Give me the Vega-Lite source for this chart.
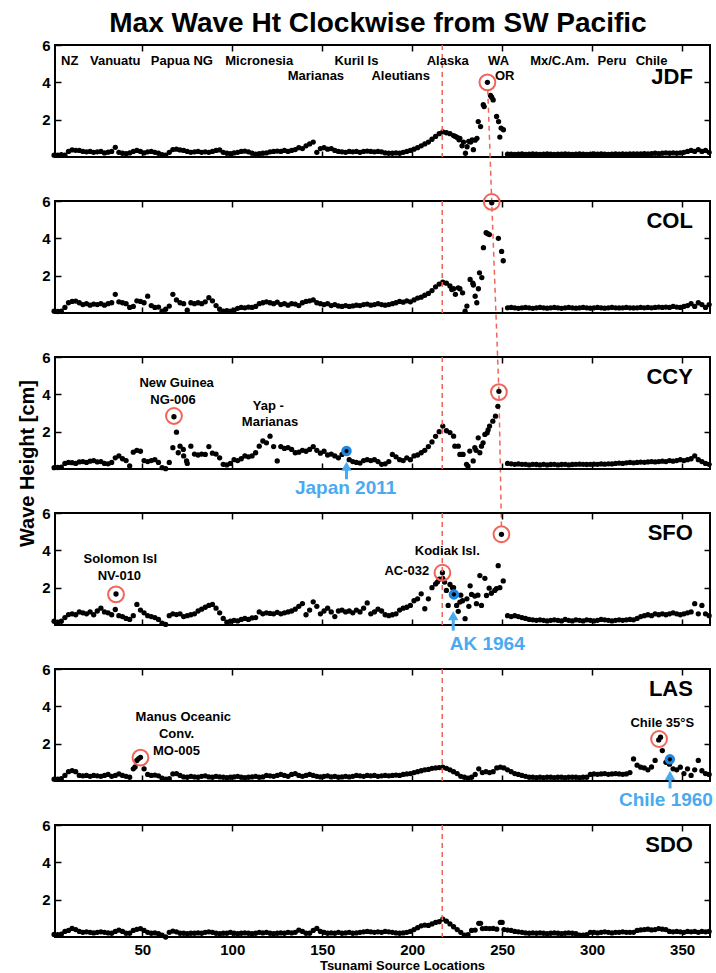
{
"$schema":"https://vega.github.io/schema/vega-lite/v6.json",
"padding":{"left":16,"top":10,"right":4,"bottom":0},
"background":"white",
"title":{"text":"Max Wave Ht Clockwise from SW Pacific","fontSize":28,"fontWeight":"bold","font":"Liberation Sans","color":"black","anchor":"middle","offset":-1,"dx":13},
"config":{
 "font":"Liberation Sans",
 "view":{"stroke":"black","strokeWidth":2},
 "axis":{"domain":false,"grid":false,"tickColor":"black","tickWidth":1.5,"tickSize":-6,"labelFont":"Liberation Sans","labelFontWeight":"bold","labelFontSize":15,"labelColor":"black","labelPadding":11,"titleFont":"Liberation Sans","titleFontWeight":"bold","titleColor":"black"}
},
"datasets":{
"main":[
{"x":1,"JDF":0.1,"COL":0.1,"CCY":0.07,"SFO":0.2,"LAS":0.1,"SDO":0.14},
{"x":3,"JDF":0.1,"COL":0.08,"CCY":0.08,"SFO":0.15,"LAS":0.1,"SDO":0.12},
{"x":5,"JDF":0.12,"COL":0.1,"CCY":0.1,"SFO":0.2,"LAS":0.12,"SDO":0.15},
{"x":7,"JDF":0.1,"COL":0.3,"CCY":0.3,"SFO":0.4,"LAS":0.3,"SDO":0.3},
{"x":9,"JDF":0.3,"COL":0.55,"CCY":0.35,"SFO":0.56,"LAS":0.5,"SDO":0.35},
{"x":11,"JDF":0.38,"COL":0.62,"CCY":0.34,"SFO":0.6,"LAS":0.56,"SDO":0.46},
{"x":13,"JDF":0.36,"COL":0.64,"CCY":0.3,"SFO":0.55,"LAS":0.5,"SDO":0.4},
{"x":15,"JDF":0.35,"COL":0.55,"CCY":0.38,"SFO":0.7,"LAS":0.3,"SDO":0.3},
{"x":17,"JDF":0.3,"COL":0.45,"CCY":0.4,"SFO":0.65,"LAS":0.28,"SDO":0.25},
{"x":19,"JDF":0.28,"COL":0.5,"CCY":0.35,"SFO":0.6,"LAS":0.3,"SDO":0.28},
{"x":21,"JDF":0.3,"COL":0.42,"CCY":0.42,"SFO":0.7,"LAS":0.25,"SDO":0.25},
{"x":23,"JDF":0.25,"COL":0.48,"CCY":0.45,"SFO":0.55,"LAS":0.3,"SDO":0.22},
{"x":25,"JDF":0.28,"COL":0.45,"CCY":0.38,"SFO":0.75,"LAS":0.28,"SDO":0.25},
{"x":27,"JDF":0.3,"COL":0.5,"CCY":0.4,"SFO":0.9,"LAS":0.25,"SDO":0.28},
{"x":29,"JDF":0.22,"COL":0.42,"CCY":0.3,"SFO":0.7,"LAS":0.3,"SDO":0.25},
{"x":31,"JDF":0.26,"COL":0.5,"CCY":0.28,"SFO":0.65,"LAS":0.35,"SDO":0.22},
{"x":33,"JDF":0.3,"COL":0.55,"CCY":0.35,"SFO":0.55,"LAS":0.25,"SDO":0.2},
{"x":35,"JDF":0.52,"COL":1.0,"CCY":0.6,"SFO":0.83,"LAS":0.3,"SDO":0.3},
{"x":37,"JDF":0.25,"COL":0.6,"CCY":0.7,"SFO":0.5,"LAS":0.38,"SDO":0.37},
{"x":39,"JDF":0.2,"COL":0.55,"CCY":0.55,"SFO":0.45,"LAS":0.3,"SDO":0.3},
{"x":41,"JDF":0.18,"COL":0.5,"CCY":0.45,"SFO":0.35,"LAS":0.25,"SDO":0.2},
{"x":43,"JDF":0.22,"COL":0.3,"CCY":0.16,"SFO":0.3,"LAS":0.2,"SDO":0.2},
{"x":45,"JDF":0.3,"COL":0.35,"CCY":0.9,"SFO":0.5,"LAS":0.65,"SDO":0.35},
{"x":47,"JDF":0.35,"COL":0.65,"CCY":1.0,"SFO":1.1,"LAS":1.1,"SDO":0.41},
{"x":49,"JDF":0.3,"COL":0.62,"CCY":0.95,"SFO":0.8,"LAS":1.27,"SDO":0.45},
{"x":51,"JDF":0.22,"COL":0.55,"CCY":0.45,"SFO":0.65,"LAS":0.65,"SDO":0.35},
{"x":53,"JDF":0.28,"COL":0.9,"CCY":0.4,"SFO":0.5,"LAS":0.35,"SDO":0.25},
{"x":55,"JDF":0.3,"COL":0.4,"CCY":0.45,"SFO":0.45,"LAS":0.3,"SDO":0.2},
{"x":57,"JDF":0.25,"COL":0.3,"CCY":0.5,"SFO":0.4,"LAS":0.32,"SDO":0.22},
{"x":59,"JDF":0.2,"COL":0.32,"CCY":0.35,"SFO":0.3,"LAS":0.28,"SDO":0.18},
{"x":61,"JDF":0.12,"COL":0.1,"CCY":0.07,"SFO":0.1,"LAS":0.15,"SDO":0.1},
{"x":63,"JDF":0.1,"COL":0.2,"CCY":0.02,"SFO":0.03,"LAS":0.1,"SDO":0.0},
{"x":65,"JDF":0.25,"COL":0.37,"CCY":0.35,"SFO":0.5,"LAS":0.12,"SDO":0.25},
{"x":67,"JDF":0.4,"COL":1.0,"CCY":1.14,"SFO":0.6,"LAS":0.38,"SDO":0.32},
{"x":69,"JDF":0.42,"COL":0.7,"CCY":1.97,"SFO":0.56,"LAS":0.4,"SDO":0.28},
{"x":71,"JDF":0.38,"COL":0.55,"CCY":1.22,"SFO":0.6,"LAS":0.3,"SDO":0.2},
{"x":73,"JDF":0.35,"COL":0.5,"CCY":0.7,"SFO":0.45,"LAS":0.22,"SDO":0.2},
{"x":75,"JDF":0.3,"COL":0.15,"CCY":0.3,"SFO":0.5,"LAS":0.2,"SDO":0.18},
{"x":77,"JDF":0.25,"COL":0.55,"CCY":1.22,"SFO":0.55,"LAS":0.25,"SDO":0.2},
{"x":79,"JDF":0.28,"COL":0.5,"CCY":0.8,"SFO":0.6,"LAS":0.22,"SDO":0.2},
{"x":81,"JDF":0.3,"COL":0.55,"CCY":0.75,"SFO":0.75,"LAS":0.2,"SDO":0.22},
{"x":83,"JDF":0.25,"COL":0.5,"CCY":0.8,"SFO":0.85,"LAS":0.25,"SDO":0.2},
{"x":85,"JDF":0.28,"COL":0.6,"CCY":0.78,"SFO":0.95,"LAS":0.28,"SDO":0.25},
{"x":87,"JDF":0.25,"COL":0.82,"CCY":1.2,"SFO":1.05,"LAS":0.22,"SDO":0.28},
{"x":89,"JDF":0.3,"COL":0.65,"CCY":0.85,"SFO":1.1,"LAS":0.2,"SDO":0.25},
{"x":91,"JDF":0.35,"COL":0.4,"CCY":0.8,"SFO":0.9,"LAS":0.25,"SDO":0.2},
{"x":93,"JDF":0.38,"COL":0.2,"CCY":0.6,"SFO":0.65,"LAS":0.22,"SDO":0.18},
{"x":95,"JDF":0.25,"COL":0.1,"CCY":0.25,"SFO":0.35,"LAS":0.2,"SDO":0.2},
{"x":97,"JDF":0.2,"COL":0.12,"CCY":0.22,"SFO":0.15,"LAS":0.18,"SDO":0.2},
{"x":99,"JDF":0.18,"COL":0.1,"CCY":0.3,"SFO":0.2,"LAS":0.2,"SDO":0.25},
{"x":101,"JDF":0.22,"COL":0.15,"CCY":0.5,"SFO":0.25,"LAS":0.22,"SDO":0.2},
{"x":103,"JDF":0.25,"COL":0.25,"CCY":0.45,"SFO":0.22,"LAS":0.25,"SDO":0.18},
{"x":105,"JDF":0.3,"COL":0.3,"CCY":0.55,"SFO":0.3,"LAS":0.2,"SDO":0.2},
{"x":107,"JDF":0.32,"COL":0.28,"CCY":0.7,"SFO":0.35,"LAS":0.18,"SDO":0.22},
{"x":109,"JDF":0.28,"COL":0.32,"CCY":0.65,"SFO":0.3,"LAS":0.2,"SDO":0.2},
{"x":111,"JDF":0.2,"COL":0.3,"CCY":0.7,"SFO":0.38,"LAS":0.22,"SDO":0.18},
{"x":113,"JDF":0.15,"COL":0.35,"CCY":0.87,"SFO":0.4,"LAS":0.25,"SDO":0.2},
{"x":115,"JDF":0.18,"COL":0.5,"CCY":1.22,"SFO":0.7,"LAS":0.2,"SDO":0.25},
{"x":117,"JDF":0.2,"COL":0.55,"CCY":1.5,"SFO":0.6,"LAS":0.22,"SDO":0.22},
{"x":119,"JDF":0.22,"COL":0.6,"CCY":1.4,"SFO":0.65,"LAS":0.3,"SDO":0.25},
{"x":121,"JDF":0.28,"COL":0.55,"CCY":1.76,"SFO":0.62,"LAS":0.28,"SDO":0.2},
{"x":123,"JDF":0.3,"COL":0.5,"CCY":1.2,"SFO":0.6,"LAS":0.25,"SDO":0.18},
{"x":125,"JDF":0.32,"COL":0.58,"CCY":0.43,"SFO":0.68,"LAS":0.3,"SDO":0.2},
{"x":127,"JDF":0.3,"COL":0.45,"CCY":1.2,"SFO":0.6,"LAS":0.35,"SDO":0.22},
{"x":129,"JDF":0.35,"COL":0.5,"CCY":1.1,"SFO":0.65,"LAS":0.3,"SDO":0.2},
{"x":131,"JDF":0.3,"COL":0.42,"CCY":1.15,"SFO":0.7,"LAS":0.25,"SDO":0.25},
{"x":133,"JDF":0.35,"COL":0.5,"CCY":1.05,"SFO":0.75,"LAS":0.35,"SDO":0.22},
{"x":135,"JDF":0.4,"COL":0.48,"CCY":0.87,"SFO":0.85,"LAS":0.4,"SDO":0.25},
{"x":137,"JDF":0.5,"COL":0.4,"CCY":0.9,"SFO":1.0,"LAS":0.3,"SDO":0.37},
{"x":139,"JDF":0.45,"COL":0.55,"CCY":1.0,"SFO":1.15,"LAS":0.25,"SDO":0.3},
{"x":141,"JDF":0.6,"COL":0.62,"CCY":0.95,"SFO":0.55,"LAS":0.3,"SDO":0.2},
{"x":143,"JDF":0.7,"COL":0.65,"CCY":1.05,"SFO":0.8,"LAS":0.35,"SDO":0.2},
{"x":145,"JDF":0.8,"COL":0.7,"CCY":1.2,"SFO":1.24,"LAS":0.3,"SDO":0.35},
{"x":147,"JDF":0.25,"COL":0.55,"CCY":1.0,"SFO":1.0,"LAS":0.25,"SDO":0.46},
{"x":149,"JDF":0.45,"COL":0.5,"CCY":0.85,"SFO":0.6,"LAS":0.22,"SDO":0.3},
{"x":151,"JDF":0.5,"COL":0.45,"CCY":0.95,"SFO":0.75,"LAS":0.25,"SDO":0.25},
{"x":153,"JDF":0.42,"COL":0.5,"CCY":0.75,"SFO":0.9,"LAS":0.28,"SDO":0.2},
{"x":155,"JDF":0.45,"COL":0.4,"CCY":0.8,"SFO":0.7,"LAS":0.22,"SDO":0.22},
{"x":157,"JDF":0.35,"COL":0.45,"CCY":0.7,"SFO":0.45,"LAS":0.25,"SDO":0.2},
{"x":159,"JDF":0.3,"COL":0.38,"CCY":0.6,"SFO":0.75,"LAS":0.2,"SDO":0.25},
{"x":161,"JDF":0.28,"COL":0.35,"CCY":0.78,"SFO":0.8,"LAS":0.22,"SDO":0.2},
{"x":163,"JDF":0.25,"COL":0.4,"CCY":0.9,"SFO":0.7,"LAS":0.25,"SDO":0.22},
{"x":165,"JDF":0.3,"COL":0.35,"CCY":0.5,"SFO":0.75,"LAS":0.22,"SDO":0.25},
{"x":167,"JDF":0.28,"COL":0.38,"CCY":0.4,"SFO":0.65,"LAS":0.25,"SDO":0.2},
{"x":169,"JDF":0.3,"COL":0.42,"CCY":0.35,"SFO":0.8,"LAS":0.3,"SDO":0.22},
{"x":171,"JDF":0.25,"COL":0.4,"CCY":0.32,"SFO":0.7,"LAS":0.28,"SDO":0.25},
{"x":173,"JDF":0.3,"COL":0.45,"CCY":0.45,"SFO":0.9,"LAS":0.25,"SDO":0.28},
{"x":175,"JDF":0.32,"COL":0.48,"CCY":0.5,"SFO":1.18,"LAS":0.3,"SDO":0.3},
{"x":177,"JDF":0.3,"COL":0.42,"CCY":0.45,"SFO":0.6,"LAS":0.28,"SDO":0.28},
{"x":179,"JDF":0.28,"COL":0.45,"CCY":0.5,"SFO":0.7,"LAS":0.3,"SDO":0.25},
{"x":181,"JDF":0.3,"COL":0.5,"CCY":0.4,"SFO":0.85,"LAS":0.25,"SDO":0.28},
{"x":183,"JDF":0.28,"COL":0.45,"CCY":0.25,"SFO":0.75,"LAS":0.28,"SDO":0.25},
{"x":185,"JDF":0.22,"COL":0.42,"CCY":0.28,"SFO":0.55,"LAS":0.3,"SDO":0.3},
{"x":187,"JDF":0.2,"COL":0.45,"CCY":0.4,"SFO":0.5,"LAS":0.28,"SDO":0.28},
{"x":189,"JDF":0.2,"COL":0.5,"CCY":0.78,"SFO":0.55,"LAS":0.3,"SDO":0.25},
{"x":191,"JDF":0.22,"COL":0.55,"CCY":0.65,"SFO":0.6,"LAS":0.32,"SDO":0.22},
{"x":193,"JDF":0.2,"COL":0.62,"CCY":0.5,"SFO":0.8,"LAS":0.3,"SDO":0.2},
{"x":195,"JDF":0.25,"COL":0.58,"CCY":0.45,"SFO":0.9,"LAS":0.35,"SDO":0.22},
{"x":197,"JDF":0.3,"COL":0.65,"CCY":0.6,"SFO":0.95,"LAS":0.38,"SDO":0.25},
{"x":199,"JDF":0.35,"COL":0.6,"CCY":0.5,"SFO":1.05,"LAS":0.4,"SDO":0.3},
{"x":201,"JDF":0.42,"COL":0.7,"CCY":0.7,"SFO":1.3,"LAS":0.45,"SDO":0.4},
{"x":203,"JDF":0.5,"COL":0.8,"CCY":0.75,"SFO":1.4,"LAS":0.5,"SDO":0.5},
{"x":205,"JDF":0.6,"COL":0.85,"CCY":0.87,"SFO":1.67,"LAS":0.55,"SDO":0.6},
{"x":207,"JDF":0.7,"COL":0.95,"CCY":1.0,"SFO":0.87,"LAS":0.6,"SDO":0.64},
{"x":209,"JDF":0.8,"COL":1.05,"CCY":1.2,"SFO":1.4,"LAS":0.62,"SDO":0.62},
{"x":211,"JDF":0.95,"COL":1.2,"CCY":1.45,"SFO":2.0,"LAS":0.68,"SDO":0.7},
{"x":213,"JDF":1.1,"COL":1.4,"CCY":1.75,"SFO":2.2,"LAS":0.7,"SDO":0.78},
{"x":215,"JDF":1.25,"COL":1.55,"CCY":2.0,"SFO":2.45,"LAS":0.72,"SDO":0.82},
{"x":217,"JDF":1.35,"COL":1.65,"CCY":2.3,"SFO":2.5,"LAS":0.74,"SDO":0.96},
{"x":219,"JDF":1.3,"COL":1.6,"CCY":2.05,"SFO":1.85,"LAS":0.68,"SDO":0.85},
{"x":221,"JDF":1.25,"COL":1.45,"CCY":1.95,"SFO":2.17,"LAS":0.6,"SDO":0.7},
{"x":223,"JDF":1.15,"COL":1.3,"CCY":1.76,"SFO":2.0,"LAS":0.5,"SDO":0.55},
{"x":225,"LAS":0.4,"SDO":0.4},
{"x":227,"LAS":0.25,"SDO":0.25},
{"x":229,"LAS":0.2,"SDO":0.1},
{"x":231,"LAS":0.15,"SDO":0.12},
{"x":233,"LAS":0.2,"SDO":0.35},
{"x":235,"LAS":0.35,"SDO":0.37},
{"x":237,"LAS":0.65,"SDO":0.73},
{"x":239,"LAS":0.45,"SDO":0.45},
{"x":241,"LAS":0.5,"SDO":0.46},
{"x":243,"LAS":0.45,"SDO":0.45},
{"x":245,"LAS":0.5,"SDO":0.46},
{"x":247,"LAS":0.7,"SDO":0.42},
{"x":249,"LAS":0.74,"SDO":0.78},
{"x":251,"LAS":0.7,"SDO":0.4},
{"x":253,"JDF":0.15,"COL":0.28,"CCY":0.3,"SFO":0.5,"LAS":0.6,"SDO":0.37},
{"x":255,"JDF":0.15,"COL":0.3,"CCY":0.28,"SFO":0.45,"LAS":0.5,"SDO":0.35},
{"x":257,"JDF":0.14,"COL":0.28,"CCY":0.25,"SFO":0.5,"LAS":0.4,"SDO":0.3},
{"x":259,"JDF":0.15,"COL":0.25,"CCY":0.27,"SFO":0.45,"LAS":0.35,"SDO":0.28},
{"x":261,"JDF":0.16,"COL":0.28,"CCY":0.25,"SFO":0.4,"LAS":0.3,"SDO":0.25},
{"x":263,"JDF":0.14,"COL":0.3,"CCY":0.25,"SFO":0.35,"LAS":0.25,"SDO":0.22},
{"x":265,"JDF":0.15,"COL":0.28,"CCY":0.22,"SFO":0.3,"LAS":0.2,"SDO":0.2},
{"x":267,"JDF":0.16,"COL":0.25,"CCY":0.25,"SFO":0.28,"LAS":0.2,"SDO":0.22},
{"x":269,"JDF":0.15,"COL":0.28,"CCY":0.24,"SFO":0.25,"LAS":0.18,"SDO":0.2},
{"x":271,"JDF":0.14,"COL":0.3,"CCY":0.22,"SFO":0.28,"LAS":0.2,"SDO":0.22},
{"x":273,"JDF":0.15,"COL":0.28,"CCY":0.25,"SFO":0.25,"LAS":0.18,"SDO":0.2},
{"x":275,"JDF":0.16,"COL":0.26,"CCY":0.22,"SFO":0.22,"LAS":0.2,"SDO":0.18},
{"x":277,"JDF":0.15,"COL":0.28,"CCY":0.24,"SFO":0.25,"LAS":0.2,"SDO":0.2},
{"x":279,"JDF":0.14,"COL":0.3,"CCY":0.25,"SFO":0.28,"LAS":0.18,"SDO":0.22},
{"x":281,"JDF":0.15,"COL":0.28,"CCY":0.22,"SFO":0.25,"LAS":0.2,"SDO":0.2},
{"x":283,"JDF":0.15,"COL":0.25,"CCY":0.24,"SFO":0.22,"LAS":0.2,"SDO":0.18},
{"x":285,"JDF":0.16,"COL":0.28,"CCY":0.25,"SFO":0.3,"LAS":0.18,"SDO":0.2},
{"x":287,"JDF":0.15,"COL":0.3,"CCY":0.22,"SFO":0.25,"LAS":0.2,"SDO":0.22},
{"x":289,"JDF":0.14,"COL":0.28,"CCY":0.24,"SFO":0.22,"LAS":0.2,"SDO":0.2},
{"x":291,"JDF":0.15,"COL":0.26,"CCY":0.25,"SFO":0.28,"LAS":0.2,"SDO":0.18},
{"x":293,"JDF":0.16,"COL":0.28,"CCY":0.26,"SFO":0.25,"LAS":0.18,"SDO":0.1},
{"x":295,"JDF":0.15,"COL":0.3,"CCY":0.25,"SFO":0.22,"LAS":0.2,"SDO":0.1},
{"x":297,"JDF":0.14,"COL":0.28,"CCY":0.24,"SFO":0.28,"LAS":0.2,"SDO":0.12},
{"x":299,"JDF":0.15,"COL":0.26,"CCY":0.25,"SFO":0.25,"LAS":0.35,"SDO":0.25},
{"x":301,"JDF":0.16,"COL":0.28,"CCY":0.26,"SFO":0.22,"LAS":0.38,"SDO":0.25},
{"x":303,"JDF":0.15,"COL":0.3,"CCY":0.25,"SFO":0.25,"LAS":0.36,"SDO":0.22},
{"x":305,"JDF":0.16,"COL":0.28,"CCY":0.27,"SFO":0.3,"LAS":0.38,"SDO":0.25},
{"x":307,"JDF":0.15,"COL":0.26,"CCY":0.26,"SFO":0.28,"LAS":0.4,"SDO":0.28},
{"x":309,"JDF":0.14,"COL":0.28,"CCY":0.28,"SFO":0.25,"LAS":0.36,"SDO":0.25},
{"x":311,"JDF":0.15,"COL":0.3,"CCY":0.27,"SFO":0.22,"LAS":0.38,"SDO":0.22},
{"x":313,"JDF":0.16,"COL":0.28,"CCY":0.3,"SFO":0.25,"LAS":0.4,"SDO":0.25},
{"x":315,"JDF":0.15,"COL":0.27,"CCY":0.32,"SFO":0.28,"LAS":0.38,"SDO":0.25},
{"x":317,"JDF":0.16,"COL":0.28,"CCY":0.3,"SFO":0.25,"LAS":0.36,"SDO":0.28},
{"x":319,"JDF":0.15,"COL":0.3,"CCY":0.33,"SFO":0.28,"LAS":0.38,"SDO":0.25},
{"x":321,"JDF":0.16,"COL":0.28,"CCY":0.35,"SFO":0.3,"LAS":0.45,"SDO":0.25},
{"x":323,"JDF":0.17,"COL":0.27,"CCY":0.33,"SFO":0.28,"LAS":1.18,"SDO":0.25},
{"x":325,"JDF":0.16,"COL":0.28,"CCY":0.35,"SFO":0.35,"LAS":0.85,"SDO":0.35},
{"x":327,"JDF":0.17,"COL":0.3,"CCY":0.37,"SFO":0.45,"LAS":0.74,"SDO":0.38},
{"x":329,"JDF":0.18,"COL":0.28,"CCY":0.36,"SFO":0.5,"LAS":0.7,"SDO":0.4},
{"x":331,"JDF":0.17,"COL":0.3,"CCY":0.38,"SFO":0.55,"LAS":0.6,"SDO":0.42},
{"x":333,"JDF":0.18,"COL":0.28,"CCY":0.4,"SFO":0.5,"LAS":0.75,"SDO":0.38},
{"x":335,"JDF":0.2,"COL":0.3,"CCY":0.38,"SFO":0.6,"LAS":1.1,"SDO":0.4},
{"x":337,"JDF":0.18,"COL":0.32,"CCY":0.4,"SFO":0.55,"LAS":2.2,"SDO":0.45},
{"x":339,"JDF":0.2,"COL":0.3,"CCY":0.42,"SFO":0.6,"LAS":1.63,"SDO":0.42},
{"x":341,"JDF":0.22,"COL":0.32,"CCY":0.4,"SFO":0.55,"LAS":1.0,"SDO":0.4},
{"x":343,"JDF":0.2,"COL":0.3,"CCY":0.45,"SFO":0.6,"LAS":0.9,"SDO":0.3},
{"x":345,"JDF":0.22,"COL":0.35,"CCY":0.42,"SFO":0.65,"LAS":0.65,"SDO":0.28},
{"x":347,"JDF":0.2,"COL":0.32,"CCY":0.45,"SFO":0.6,"LAS":0.6,"SDO":0.3},
{"x":349,"JDF":0.22,"COL":0.3,"CCY":0.5,"SFO":0.55,"LAS":0.74,"SDO":0.28},
{"x":351,"JDF":0.25,"COL":0.35,"CCY":0.45,"SFO":0.6,"LAS":0.4,"SDO":0.25},
{"x":353,"JDF":0.3,"COL":0.4,"CCY":0.5,"SFO":0.65,"LAS":0.65,"SDO":0.3},
{"x":355,"JDF":0.35,"COL":0.5,"CCY":0.55,"SFO":0.7,"LAS":0.3,"SDO":0.28},
{"x":357,"JDF":0.3,"COL":0.35,"CCY":0.7,"SFO":1.14,"LAS":0.6,"SDO":0.3},
{"x":359,"JDF":0.4,"COL":0.55,"CCY":0.5,"SFO":0.6,"LAS":1.1,"SDO":0.25},
{"x":361,"JDF":0.3,"COL":0.45,"CCY":0.4,"SFO":1.05,"LAS":0.55,"SDO":0.3},
{"x":363,"JDF":0.35,"COL":0.3,"CCY":0.3,"SFO":0.6,"LAS":0.4,"SDO":0.28},
{"x":365,"JDF":0.25,"COL":0.45,"CCY":0.25,"SFO":0.5,"LAS":0.35,"SDO":0.3}
],
"extra":[
{"p":"JDF","x":224,"v":1.1},{"p":"JDF","x":225,"v":1.05},{"p":"JDF","x":226,"v":0.92},{"p":"JDF","x":226.5,"v":1.0},{"p":"JDF","x":227.7,"v":0.6},{"p":"JDF","x":228.5,"v":0.8},{"p":"JDF","x":229.6,"v":0.2},{"p":"JDF","x":230.5,"v":0.55},{"p":"JDF","x":231.4,"v":0.84},{"p":"JDF","x":232.5,"v":0.8},{"p":"JDF","x":233.3,"v":0.92},{"p":"JDF","x":234,"v":0.39},{"p":"JDF","x":235,"v":0.9},{"p":"JDF","x":236,"v":1.0},{"p":"JDF","x":236.7,"v":1.9},{"p":"JDF","x":238,"v":1.63},{"p":"JDF","x":239.5,"v":2.8},{"p":"JDF","x":240,"v":2.7},{"p":"JDF","x":241.8,"v":4.0},{"p":"JDF","x":243.5,"v":3.3},{"p":"JDF","x":244.2,"v":3.2},{"p":"JDF","x":245,"v":3.06},{"p":"JDF","x":246.9,"v":2.17},{"p":"JDF","x":248,"v":1.9},{"p":"JDF","x":248.7,"v":1.07},{"p":"JDF","x":249.4,"v":1.55},{"p":"JDF","x":250.7,"v":1.46},
{"p":"COL","x":222,"v":1.26},{"p":"COL","x":224,"v":1.0},{"p":"COL","x":225.6,"v":1.35},{"p":"COL","x":226.5,"v":1.3},{"p":"COL","x":228,"v":1.08},{"p":"COL","x":229.4,"v":0.1},{"p":"COL","x":230.4,"v":0.37},{"p":"COL","x":232.2,"v":1.8},{"p":"COL","x":233.7,"v":1.6},{"p":"COL","x":234,"v":1.5},{"p":"COL","x":235,"v":0.9},{"p":"COL","x":235.9,"v":0.55},{"p":"COL","x":236.8,"v":1.3},{"p":"COL","x":237.4,"v":2.15},{"p":"COL","x":238.7,"v":1.9},{"p":"COL","x":239.6,"v":3.5},{"p":"COL","x":241.1,"v":4.3},{"p":"COL","x":242,"v":4.25},{"p":"COL","x":242.9,"v":4.2},{"p":"COL","x":244.2,"v":5.9},{"p":"COL","x":247.9,"v":4.0},{"p":"COL","x":249.7,"v":3.3},{"p":"COL","x":250.6,"v":2.8},
{"p":"CCY","x":67.6,"v":2.8},{"p":"CCY","x":70,"v":0.87},{"p":"CCY","x":72.8,"v":1.05},{"p":"CCY","x":74.6,"v":0.43},{"p":"CCY","x":223.7,"v":1.22},{"p":"CCY","x":225.6,"v":1.22},{"p":"CCY","x":226.5,"v":0.78},{"p":"CCY","x":227.5,"v":0.78},{"p":"CCY","x":228.3,"v":0.78},{"p":"CCY","x":230.2,"v":0.25},{"p":"CCY","x":231,"v":0.15},{"p":"CCY","x":232,"v":0.96},{"p":"CCY","x":233.9,"v":0.43},{"p":"CCY","x":234.8,"v":1.14},{"p":"CCY","x":235.5,"v":1.0},{"p":"CCY","x":236.7,"v":1.67},{"p":"CCY","x":237.6,"v":0.87},{"p":"CCY","x":238.5,"v":1.22},{"p":"CCY","x":239.4,"v":1.4},{"p":"CCY","x":240.4,"v":1.85},{"p":"CCY","x":241.7,"v":1.94},{"p":"CCY","x":242.2,"v":2.1},{"p":"CCY","x":243,"v":2.3},{"p":"CCY","x":244.8,"v":2.56},{"p":"CCY","x":246.3,"v":2.83},{"p":"CCY","x":247.6,"v":3.36},{"p":"CCY","x":248.2,"v":4.16},
{"p":"SFO","x":35.4,"v":1.66},{"p":"SFO","x":214,"v":2.3},{"p":"SFO","x":216.8,"v":2.8},{"p":"SFO","x":218,"v":2.3},{"p":"SFO","x":220,"v":1.05},{"p":"SFO","x":222.4,"v":2.0},{"p":"SFO","x":223.2,"v":1.64},{"p":"SFO","x":224.7,"v":1.05},{"p":"SFO","x":225.6,"v":0.73},{"p":"SFO","x":226.5,"v":1.23},{"p":"SFO","x":227,"v":1.6},{"p":"SFO","x":228,"v":1.3},{"p":"SFO","x":229.4,"v":0.34},{"p":"SFO","x":230.4,"v":1.4},{"p":"SFO","x":231.5,"v":1.0},{"p":"SFO","x":232.2,"v":2.1},{"p":"SFO","x":233,"v":1.64},{"p":"SFO","x":234.8,"v":1.55},{"p":"SFO","x":235.7,"v":1.14},{"p":"SFO","x":236.5,"v":1.6},{"p":"SFO","x":237.6,"v":2.65},{"p":"SFO","x":238.5,"v":1.05},{"p":"SFO","x":240.4,"v":2.5},{"p":"SFO","x":241.3,"v":1.58},{"p":"SFO","x":242.8,"v":1.97},{"p":"SFO","x":244,"v":1.7},{"p":"SFO","x":245.9,"v":1.85},{"p":"SFO","x":246.8,"v":1.95},{"p":"SFO","x":247.8,"v":3.18},{"p":"SFO","x":248.7,"v":2.0},{"p":"SFO","x":249.6,"v":4.86},{"p":"SFO","x":250.6,"v":2.36},
{"p":"LAS","x":46,"v":0.75},{"p":"LAS","x":48,"v":1.2},{"p":"LAS","x":338,"v":2.35},{"p":"LAS","x":343.2,"v":1.16},
{"p":"SDO","x":238,"v":0.73},{"p":"SDO","x":250,"v":0.78}
],
"vline":[{"x":216.7}],
"diag":[{"x":242,"v":3.6},{"x":244.2,"v":-2.41},{"x":248.2,"v":-12.59},{"x":249.6,"v":-19.8}],
"circ":[
{"p":"JDF","x":241.8,"v":4.0},{"p":"COL","x":244.2,"v":5.95},{"p":"CCY","x":67.6,"v":2.84},{"p":"CCY","x":248.2,"v":4.12},
{"p":"SFO","x":35.4,"v":1.64},{"p":"SFO","x":216.8,"v":2.8},{"p":"SFO","x":249.6,"v":4.86},{"p":"LAS","x":49,"v":1.25},{"p":"LAS","x":337.2,"v":2.25}
],
"blue":[{"p":"CCY","x":163.5,"v":0.96},{"p":"SFO","x":223.2,"v":1.64},{"p":"LAS","x":343.2,"v":1.16}],
"arr":[{"p":"CCY","x":163.5,"lo":-0.55,"hi":0.15},{"p":"SFO","x":222.8,"lo":-0.3,"hi":0.5},{"p":"LAS","x":343.3,"lo":-0.4,"hi":0.3}],
"txt":[
{"p":"JDF","k":"note","x":9.7,"v":5.16,"t":"NZ"},
{"p":"JDF","k":"note","x":35,"v":5.16,"t":"Vanuatu"},
{"p":"JDF","k":"note","x":72,"v":5.16,"t":"Papua NG"},
{"p":"JDF","k":"note","x":115,"v":5.16,"t":"Micronesia"},
{"p":"JDF","k":"note","x":169,"v":5.16,"t":"Kuril Is"},
{"p":"JDF","k":"note","x":146.5,"v":4.34,"t":"Marianas"},
{"p":"JDF","k":"note","x":193.6,"v":4.34,"t":"Aleutians"},
{"p":"JDF","k":"note","x":219.7,"v":5.16,"t":"Alaska"},
{"p":"JDF","k":"note","x":248,"v":5.16,"t":"WA"},
{"p":"JDF","k":"note","x":251.4,"v":4.34,"t":"OR"},
{"p":"JDF","k":"note","x":282,"v":5.16,"t":"Mx/C.Am."},
{"p":"JDF","k":"note","x":311,"v":5.16,"t":"Peru"},
{"p":"JDF","k":"note","x":333,"v":5.16,"t":"Chile"},
{"p":"JDF","k":"station","x":356,"v":4.26,"t":"JDF"},
{"p":"COL","k":"station","x":356,"v":4.93,"t":"COL"},
{"p":"CCY","k":"station","x":356,"v":4.93,"t":"CCY"},
{"p":"SFO","k":"station","x":356,"v":4.93,"t":"SFO"},
{"p":"LAS","k":"station","x":356,"v":4.93,"t":"LAS"},
{"p":"SDO","k":"station","x":356,"v":4.93,"t":"SDO"},
{"p":"CCY","k":"note","x":69.1,"v":4.59,"t":"New Guinea"},
{"p":"CCY","k":"note","x":67.1,"v":3.7,"t":"NG-006"},
{"p":"CCY","k":"note","x":120,"v":3.39,"t":"Yap -"},
{"p":"CCY","k":"note","x":121,"v":2.5,"t":"Marianas"},
{"p":"SFO","k":"note","x":37.8,"v":3.54,"t":"Solomon Isl"},
{"p":"SFO","k":"note","x":37.3,"v":2.63,"t":"NV-010"},
{"p":"SFO","k":"note","x":219.5,"v":3.96,"t":"Kodiak Isl."},
{"p":"SFO","k":"note","x":197,"v":2.89,"t":"AC-032"},
{"p":"LAS","k":"note","x":72.8,"v":3.41,"t":"Manus Oceanic"},
{"p":"LAS","k":"note","x":69,"v":2.52,"t":"Conv."},
{"p":"LAS","k":"note","x":69,"v":1.62,"t":"MO-005"},
{"p":"LAS","k":"note","x":339,"v":3.09,"t":"Chile 35°S"},
{"p":"CCY","k":"event","x":163,"v":-1.0,"t":"Japan 2011"},
{"p":"SFO","k":"event","x":241.7,"v":-1.0,"t":"AK 1964"},
{"p":"LAS","k":"event","x":341,"v":-1.0,"t":"Chile 1960"}
]
},
"bounds":"flush",
"spacing":44,
"vconcat":[
{"width":655,"height":112,
 "encoding":{"x":{"field":"x","type":"quantitative","scale":{"domain":[1.5,365.5],"nice":false,"zero":false},"axis":null}},
 "resolve":{"axis":{"x":"independent","y":"independent"}},
 "layer":[
  {"data":{"name":"main"},"mark":{"type":"point","filled":true,"color":"black","size":28,"opacity":1},
   "encoding":{"x":{"field":"x","type":"quantitative","scale":{"domain":[1.5,365.5],"nice":false,"zero":false},"axis":{"values":[50,100,150,200,250,300,350],"labels":false,"title":null}},
    "y":{"field":"JDF","type":"quantitative","scale":{"domain":[0,6],"nice":false,"zero":false},"axis":{"values":[2,4,6],"title":null}}}},
  {"data":{"name":"extra"},"transform":[{"filter":"datum.p==='JDF'"}],"mark":{"type":"point","filled":true,"color":"black","size":28,"opacity":1},
   "encoding":{"x":{"field":"x","type":"quantitative","scale":{"domain":[1.5,365.5],"nice":false,"zero":false},"axis":{"orient":"top","values":[50,100,150,200,250,300,350],"labels":false,"title":null}},
    "y":{"field":"v","type":"quantitative","scale":{"domain":[0,6],"nice":false,"zero":false},"axis":{"orient":"right","values":[2,4],"labels":false,"title":null}}}},
  {"data":{"name":"vline"},"mark":{"type":"rule","color":"#f0645a","strokeDash":[5,4],"strokeWidth":1.5},"encoding":{}},
  {"data":{"name":"diag"},"mark":{"type":"line","color":"#f0645a","strokeDash":[5,4],"strokeWidth":1.5,"clip":false},
   "encoding":{"y":{"field":"v","type":"quantitative","scale":{"domain":[0,6],"nice":false,"zero":false},"axis":null}}},
  {"data":{"name":"circ"},"transform":[{"filter":"datum.p==='JDF'"}],"mark":{"type":"point","shape":"circle","filled":false,"stroke":"#f0645a","strokeWidth":2,"size":250,"opacity":1},
   "encoding":{"y":{"field":"v","type":"quantitative","scale":{"domain":[0,6],"nice":false,"zero":false},"axis":null}}},
  {"data":{"name":"txt"},"transform":[{"filter":"datum.p==='JDF'&&datum.k==='note'"}],"mark":{"type":"text","fontWeight":"bold","fontSize":13,"align":"center","baseline":"middle","color":"black"},
   "encoding":{"y":{"field":"v","type":"quantitative","scale":{"domain":[0,6],"nice":false,"zero":false},"axis":null},"text":{"field":"t"}}},
  {"data":{"name":"txt"},"transform":[{"filter":"datum.p==='JDF'&&datum.k==='station'"}],"mark":{"type":"text","fontWeight":"bold","fontSize":22,"align":"right","baseline":"middle","color":"black"},
   "encoding":{"y":{"field":"v","type":"quantitative","scale":{"domain":[0,6],"nice":false,"zero":false},"axis":null},"text":{"field":"t"}}}
 ]},
{"width":655,"height":112,
 "encoding":{"x":{"field":"x","type":"quantitative","scale":{"domain":[1.5,365.5],"nice":false,"zero":false},"axis":null}},
 "resolve":{"axis":{"x":"independent","y":"independent"}},
 "layer":[
  {"data":{"name":"main"},"mark":{"type":"point","filled":true,"color":"black","size":28,"opacity":1},
   "encoding":{"x":{"field":"x","type":"quantitative","scale":{"domain":[1.5,365.5],"nice":false,"zero":false},"axis":{"values":[50,100,150,200,250,300,350],"labels":false,"title":null}},
    "y":{"field":"COL","type":"quantitative","scale":{"domain":[0,6],"nice":false,"zero":false},"axis":{"values":[2,4,6],"title":null}}}},
  {"data":{"name":"extra"},"transform":[{"filter":"datum.p==='COL'"}],"mark":{"type":"point","filled":true,"color":"black","size":28,"opacity":1},
   "encoding":{"x":{"field":"x","type":"quantitative","scale":{"domain":[1.5,365.5],"nice":false,"zero":false},"axis":{"orient":"top","values":[50,100,150,200,250,300,350],"labels":false,"title":null}},
    "y":{"field":"v","type":"quantitative","scale":{"domain":[0,6],"nice":false,"zero":false},"axis":{"orient":"right","values":[2,4],"labels":false,"title":null}}}},
  {"data":{"name":"vline"},"mark":{"type":"rule","color":"#f0645a","strokeDash":[5,4],"strokeWidth":1.5},"encoding":{}},
  {"data":{"name":"circ"},"transform":[{"filter":"datum.p==='COL'"}],"mark":{"type":"point","shape":"circle","filled":false,"stroke":"#f0645a","strokeWidth":2,"size":250,"opacity":1},
   "encoding":{"y":{"field":"v","type":"quantitative","scale":{"domain":[0,6],"nice":false,"zero":false},"axis":null}}},
  {"data":{"name":"txt"},"transform":[{"filter":"datum.p==='COL'&&datum.k==='station'"}],"mark":{"type":"text","fontWeight":"bold","fontSize":22,"align":"right","baseline":"middle","color":"black"},
   "encoding":{"y":{"field":"v","type":"quantitative","scale":{"domain":[0,6],"nice":false,"zero":false},"axis":null},"text":{"field":"t"}}}
 ]},
{"width":655,"height":112,
 "encoding":{"x":{"field":"x","type":"quantitative","scale":{"domain":[1.5,365.5],"nice":false,"zero":false},"axis":null}},
 "resolve":{"axis":{"x":"independent","y":"independent"}},
 "layer":[
  {"data":{"name":"main"},"mark":{"type":"point","filled":true,"color":"black","size":28,"opacity":1},
   "encoding":{"x":{"field":"x","type":"quantitative","scale":{"domain":[1.5,365.5],"nice":false,"zero":false},"axis":{"values":[50,100,150,200,250,300,350],"labels":false,"title":null}},
    "y":{"field":"CCY","type":"quantitative","scale":{"domain":[0,6],"nice":false,"zero":false},"axis":{"values":[2,4,6],"title":"Wave Height [cm]","titleX":-22,"titleY":106,"titleAngle":-90,"titleAlign":"center","titleBaseline":"alphabetic","titleFontSize":20}}}},
  {"data":{"name":"extra"},"transform":[{"filter":"datum.p==='CCY'"}],"mark":{"type":"point","filled":true,"color":"black","size":28,"opacity":1},
   "encoding":{"x":{"field":"x","type":"quantitative","scale":{"domain":[1.5,365.5],"nice":false,"zero":false},"axis":{"orient":"top","values":[50,100,150,200,250,300,350],"labels":false,"title":null}},
    "y":{"field":"v","type":"quantitative","scale":{"domain":[0,6],"nice":false,"zero":false},"axis":{"orient":"right","values":[2,4],"labels":false,"title":null}}}},
  {"data":{"name":"vline"},"mark":{"type":"rule","color":"#f0645a","strokeDash":[5,4],"strokeWidth":1.5},"encoding":{}},
  {"data":{"name":"circ"},"transform":[{"filter":"datum.p==='CCY'"}],"mark":{"type":"point","shape":"circle","filled":false,"stroke":"#f0645a","strokeWidth":2,"size":250,"opacity":1},
   "encoding":{"y":{"field":"v","type":"quantitative","scale":{"domain":[0,6],"nice":false,"zero":false},"axis":null}}},
  {"data":{"name":"blue"},"transform":[{"filter":"datum.p==='CCY'"}],"mark":{"type":"point","filled":true,"color":"#1f86e0","size":110,"opacity":1},
   "encoding":{"y":{"field":"v","type":"quantitative","scale":{"domain":[0,6],"nice":false,"zero":false},"axis":null}}},
  {"data":{"name":"blue"},"transform":[{"filter":"datum.p==='CCY'"}],"mark":{"type":"point","filled":true,"color":"black","size":18,"opacity":1},
   "encoding":{"y":{"field":"v","type":"quantitative","scale":{"domain":[0,6],"nice":false,"zero":false},"axis":null}}},
  {"data":{"name":"arr"},"transform":[{"filter":"datum.p==='CCY'"}],"mark":{"type":"rule","color":"#4aaaf0","strokeWidth":3},
   "encoding":{"y":{"field":"lo","type":"quantitative","scale":{"domain":[0,6],"nice":false,"zero":false},"axis":null},"y2":{"field":"hi"}}},
  {"data":{"name":"arr"},"transform":[{"filter":"datum.p==='CCY'"}],"mark":{"type":"point","shape":"triangle-up","filled":true,"color":"#4aaaf0","size":110,"opacity":1},
   "encoding":{"y":{"field":"hi","type":"quantitative","scale":{"domain":[0,6],"nice":false,"zero":false},"axis":null}}},
  {"data":{"name":"txt"},"transform":[{"filter":"datum.p==='CCY'&&datum.k==='note'"}],"mark":{"type":"text","fontWeight":"bold","fontSize":13,"align":"center","baseline":"middle","color":"black"},
   "encoding":{"y":{"field":"v","type":"quantitative","scale":{"domain":[0,6],"nice":false,"zero":false},"axis":null},"text":{"field":"t"}}},
  {"data":{"name":"txt"},"transform":[{"filter":"datum.p==='CCY'&&datum.k==='event'"}],"mark":{"type":"text","fontWeight":"bold","fontSize":19,"align":"center","baseline":"middle","color":"#4aaaf0"},
   "encoding":{"y":{"field":"v","type":"quantitative","scale":{"domain":[0,6],"nice":false,"zero":false},"axis":null},"text":{"field":"t"}}},
  {"data":{"name":"txt"},"transform":[{"filter":"datum.p==='CCY'&&datum.k==='station'"}],"mark":{"type":"text","fontWeight":"bold","fontSize":22,"align":"right","baseline":"middle","color":"black"},
   "encoding":{"y":{"field":"v","type":"quantitative","scale":{"domain":[0,6],"nice":false,"zero":false},"axis":null},"text":{"field":"t"}}}
 ]},
{"width":655,"height":112,
 "encoding":{"x":{"field":"x","type":"quantitative","scale":{"domain":[1.5,365.5],"nice":false,"zero":false},"axis":null}},
 "resolve":{"axis":{"x":"independent","y":"independent"}},
 "layer":[
  {"data":{"name":"main"},"mark":{"type":"point","filled":true,"color":"black","size":28,"opacity":1},
   "encoding":{"x":{"field":"x","type":"quantitative","scale":{"domain":[1.5,365.5],"nice":false,"zero":false},"axis":{"values":[50,100,150,200,250,300,350],"labels":false,"title":null}},
    "y":{"field":"SFO","type":"quantitative","scale":{"domain":[0,6],"nice":false,"zero":false},"axis":{"values":[2,4,6],"title":null}}}},
  {"data":{"name":"extra"},"transform":[{"filter":"datum.p==='SFO'"}],"mark":{"type":"point","filled":true,"color":"black","size":28,"opacity":1},
   "encoding":{"x":{"field":"x","type":"quantitative","scale":{"domain":[1.5,365.5],"nice":false,"zero":false},"axis":{"orient":"top","values":[50,100,150,200,250,300,350],"labels":false,"title":null}},
    "y":{"field":"v","type":"quantitative","scale":{"domain":[0,6],"nice":false,"zero":false},"axis":{"orient":"right","values":[2,4],"labels":false,"title":null}}}},
  {"data":{"name":"vline"},"mark":{"type":"rule","color":"#f0645a","strokeDash":[5,4],"strokeWidth":1.5},"encoding":{}},
  {"data":{"name":"circ"},"transform":[{"filter":"datum.p==='SFO'"}],"mark":{"type":"point","shape":"circle","filled":false,"stroke":"#f0645a","strokeWidth":2,"size":250,"opacity":1},
   "encoding":{"y":{"field":"v","type":"quantitative","scale":{"domain":[0,6],"nice":false,"zero":false},"axis":null}}},
  {"data":{"name":"blue"},"transform":[{"filter":"datum.p==='SFO'"}],"mark":{"type":"point","filled":true,"color":"#1f86e0","size":110,"opacity":1},
   "encoding":{"y":{"field":"v","type":"quantitative","scale":{"domain":[0,6],"nice":false,"zero":false},"axis":null}}},
  {"data":{"name":"blue"},"transform":[{"filter":"datum.p==='SFO'"}],"mark":{"type":"point","filled":true,"color":"black","size":18,"opacity":1},
   "encoding":{"y":{"field":"v","type":"quantitative","scale":{"domain":[0,6],"nice":false,"zero":false},"axis":null}}},
  {"data":{"name":"arr"},"transform":[{"filter":"datum.p==='SFO'"}],"mark":{"type":"rule","color":"#4aaaf0","strokeWidth":3},
   "encoding":{"y":{"field":"lo","type":"quantitative","scale":{"domain":[0,6],"nice":false,"zero":false},"axis":null},"y2":{"field":"hi"}}},
  {"data":{"name":"arr"},"transform":[{"filter":"datum.p==='SFO'"}],"mark":{"type":"point","shape":"triangle-up","filled":true,"color":"#4aaaf0","size":110,"opacity":1},
   "encoding":{"y":{"field":"hi","type":"quantitative","scale":{"domain":[0,6],"nice":false,"zero":false},"axis":null}}},
  {"data":{"name":"txt"},"transform":[{"filter":"datum.p==='SFO'&&datum.k==='note'"}],"mark":{"type":"text","fontWeight":"bold","fontSize":13,"align":"center","baseline":"middle","color":"black"},
   "encoding":{"y":{"field":"v","type":"quantitative","scale":{"domain":[0,6],"nice":false,"zero":false},"axis":null},"text":{"field":"t"}}},
  {"data":{"name":"txt"},"transform":[{"filter":"datum.p==='SFO'&&datum.k==='event'"}],"mark":{"type":"text","fontWeight":"bold","fontSize":19,"align":"center","baseline":"middle","color":"#4aaaf0"},
   "encoding":{"y":{"field":"v","type":"quantitative","scale":{"domain":[0,6],"nice":false,"zero":false},"axis":null},"text":{"field":"t"}}},
  {"data":{"name":"txt"},"transform":[{"filter":"datum.p==='SFO'&&datum.k==='station'"}],"mark":{"type":"text","fontWeight":"bold","fontSize":22,"align":"right","baseline":"middle","color":"black"},
   "encoding":{"y":{"field":"v","type":"quantitative","scale":{"domain":[0,6],"nice":false,"zero":false},"axis":null},"text":{"field":"t"}}}
 ]},
{"width":655,"height":112,
 "encoding":{"x":{"field":"x","type":"quantitative","scale":{"domain":[1.5,365.5],"nice":false,"zero":false},"axis":null}},
 "resolve":{"axis":{"x":"independent","y":"independent"}},
 "layer":[
  {"data":{"name":"main"},"mark":{"type":"point","filled":true,"color":"black","size":28,"opacity":1},
   "encoding":{"x":{"field":"x","type":"quantitative","scale":{"domain":[1.5,365.5],"nice":false,"zero":false},"axis":{"values":[50,100,150,200,250,300,350],"labels":false,"title":null}},
    "y":{"field":"LAS","type":"quantitative","scale":{"domain":[0,6],"nice":false,"zero":false},"axis":{"values":[2,4,6],"title":null}}}},
  {"data":{"name":"extra"},"transform":[{"filter":"datum.p==='LAS'"}],"mark":{"type":"point","filled":true,"color":"black","size":28,"opacity":1},
   "encoding":{"x":{"field":"x","type":"quantitative","scale":{"domain":[1.5,365.5],"nice":false,"zero":false},"axis":{"orient":"top","values":[50,100,150,200,250,300,350],"labels":false,"title":null}},
    "y":{"field":"v","type":"quantitative","scale":{"domain":[0,6],"nice":false,"zero":false},"axis":{"orient":"right","values":[2,4],"labels":false,"title":null}}}},
  {"data":{"name":"vline"},"mark":{"type":"rule","color":"#f0645a","strokeDash":[5,4],"strokeWidth":1.5},"encoding":{}},
  {"data":{"name":"circ"},"transform":[{"filter":"datum.p==='LAS'"}],"mark":{"type":"point","shape":"circle","filled":false,"stroke":"#f0645a","strokeWidth":2,"size":250,"opacity":1},
   "encoding":{"y":{"field":"v","type":"quantitative","scale":{"domain":[0,6],"nice":false,"zero":false},"axis":null}}},
  {"data":{"name":"blue"},"transform":[{"filter":"datum.p==='LAS'"}],"mark":{"type":"point","filled":true,"color":"#1f86e0","size":110,"opacity":1},
   "encoding":{"y":{"field":"v","type":"quantitative","scale":{"domain":[0,6],"nice":false,"zero":false},"axis":null}}},
  {"data":{"name":"blue"},"transform":[{"filter":"datum.p==='LAS'"}],"mark":{"type":"point","filled":true,"color":"black","size":18,"opacity":1},
   "encoding":{"y":{"field":"v","type":"quantitative","scale":{"domain":[0,6],"nice":false,"zero":false},"axis":null}}},
  {"data":{"name":"arr"},"transform":[{"filter":"datum.p==='LAS'"}],"mark":{"type":"rule","color":"#4aaaf0","strokeWidth":3},
   "encoding":{"y":{"field":"lo","type":"quantitative","scale":{"domain":[0,6],"nice":false,"zero":false},"axis":null},"y2":{"field":"hi"}}},
  {"data":{"name":"arr"},"transform":[{"filter":"datum.p==='LAS'"}],"mark":{"type":"point","shape":"triangle-up","filled":true,"color":"#4aaaf0","size":110,"opacity":1},
   "encoding":{"y":{"field":"hi","type":"quantitative","scale":{"domain":[0,6],"nice":false,"zero":false},"axis":null}}},
  {"data":{"name":"txt"},"transform":[{"filter":"datum.p==='LAS'&&datum.k==='note'"}],"mark":{"type":"text","fontWeight":"bold","fontSize":13,"align":"center","baseline":"middle","color":"black"},
   "encoding":{"y":{"field":"v","type":"quantitative","scale":{"domain":[0,6],"nice":false,"zero":false},"axis":null},"text":{"field":"t"}}},
  {"data":{"name":"txt"},"transform":[{"filter":"datum.p==='LAS'&&datum.k==='event'"}],"mark":{"type":"text","fontWeight":"bold","fontSize":19,"align":"center","baseline":"middle","color":"#4aaaf0"},
   "encoding":{"y":{"field":"v","type":"quantitative","scale":{"domain":[0,6],"nice":false,"zero":false},"axis":null},"text":{"field":"t"}}},
  {"data":{"name":"txt"},"transform":[{"filter":"datum.p==='LAS'&&datum.k==='station'"}],"mark":{"type":"text","fontWeight":"bold","fontSize":22,"align":"right","baseline":"middle","color":"black"},
   "encoding":{"y":{"field":"v","type":"quantitative","scale":{"domain":[0,6],"nice":false,"zero":false},"axis":null},"text":{"field":"t"}}}
 ]},
{"width":655,"height":112,
 "encoding":{"x":{"field":"x","type":"quantitative","scale":{"domain":[1.5,365.5],"nice":false,"zero":false},"axis":null}},
 "resolve":{"axis":{"x":"independent","y":"independent"}},
 "layer":[
  {"data":{"name":"main"},"mark":{"type":"point","filled":true,"color":"black","size":28,"opacity":1},
   "encoding":{"x":{"field":"x","type":"quantitative","scale":{"domain":[1.5,365.5],"nice":false,"zero":false},"axis":{"values":[50,100,150,200,250,300,350],"title":"Tsunami Source Locations","titleFontSize":13,"titleX":347,"titleY":28,"titleBaseline":"middle","titleAlign":"center"}},
    "y":{"field":"SDO","type":"quantitative","scale":{"domain":[0,6],"nice":false,"zero":false},"axis":{"values":[2,4,6],"title":null}}}},
  {"data":{"name":"extra"},"transform":[{"filter":"datum.p==='SDO'"}],"mark":{"type":"point","filled":true,"color":"black","size":28,"opacity":1},
   "encoding":{"x":{"field":"x","type":"quantitative","scale":{"domain":[1.5,365.5],"nice":false,"zero":false},"axis":{"orient":"top","values":[50,100,150,200,250,300,350],"labels":false,"title":null}},
    "y":{"field":"v","type":"quantitative","scale":{"domain":[0,6],"nice":false,"zero":false},"axis":{"orient":"right","values":[2,4],"labels":false,"title":null}}}},
  {"data":{"name":"vline"},"mark":{"type":"rule","color":"#f0645a","strokeDash":[5,4],"strokeWidth":1.5},"encoding":{}},
  {"data":{"name":"txt"},"transform":[{"filter":"datum.p==='SDO'&&datum.k==='station'"}],"mark":{"type":"text","fontWeight":"bold","fontSize":22,"align":"right","baseline":"middle","color":"black"},
   "encoding":{"y":{"field":"v","type":"quantitative","scale":{"domain":[0,6],"nice":false,"zero":false},"axis":null},"text":{"field":"t"}}}
 ]}
]
}
